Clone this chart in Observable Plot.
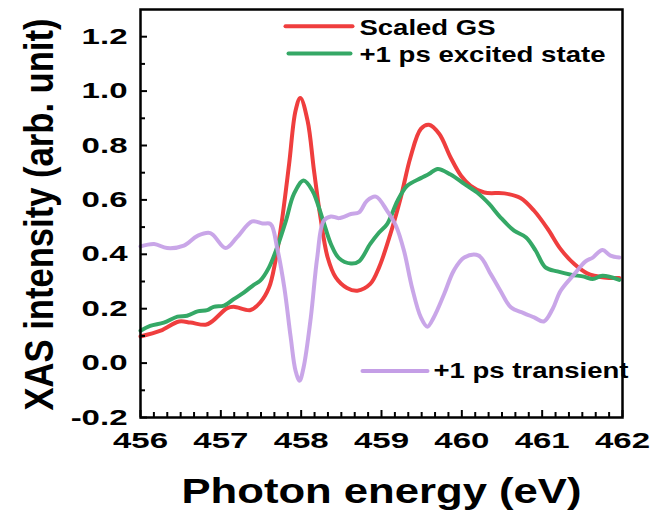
<!DOCTYPE html>
<html>
<head>
<meta charset="utf-8">
<script src="https://cdn.jsdelivr.net/npm/d3@7"></script>
<script src="https://cdn.jsdelivr.net/npm/@observablehq/plot@0.6"></script>
<style>
  html, body { margin: 0; padding: 0; background: #fff; }
  #chart svg text { font-weight: 700; }
</style>
</head>
<body>
<div id="chart"></div>
<script>
// ---- data ----
const gsE = [456.00,456.25,456.48,456.62,456.81,456.89,457.08,457.16,457.37,457.49,457.60,457.68,457.76,457.85,457.93,457.99,458.08,458.16,458.24,458.33,458.43,458.57,458.70,458.86,458.97,459.11,459.24,459.36,459.49,459.59,459.72,459.86,459.99,460.11,460.28,460.53,460.73,460.90,461.07,461.23,461.40,461.56,461.77,461.96];
const gsI = [0.098,0.119,0.153,0.149,0.141,0.153,0.202,0.207,0.195,0.223,0.278,0.376,0.523,0.732,0.928,0.975,0.891,0.707,0.536,0.388,0.315,0.276,0.266,0.291,0.352,0.474,0.609,0.756,0.861,0.876,0.842,0.756,0.689,0.652,0.627,0.624,0.607,0.560,0.493,0.419,0.364,0.330,0.315,0.313];

const esE = [456.00,456.12,456.29,456.46,456.58,456.71,456.83,456.91,457.04,457.16,457.29,457.41,457.49,457.60,457.70,457.81,457.91,458.03,458.14,458.26,458.37,458.47,458.62,458.72,458.86,458.97,459.07,459.20,459.32,459.49,459.59,459.70,459.86,460.03,460.19,460.34,460.48,460.65,460.80,460.92,461.04,461.19,461.36,461.52,461.63,461.75,461.96];
const esI = [0.119,0.137,0.149,0.171,0.174,0.190,0.195,0.207,0.211,0.235,0.260,0.288,0.303,0.352,0.425,0.523,0.622,0.671,0.634,0.536,0.438,0.386,0.366,0.374,0.438,0.480,0.511,0.597,0.652,0.680,0.695,0.714,0.693,0.659,0.627,0.585,0.536,0.487,0.462,0.413,0.352,0.337,0.325,0.318,0.309,0.321,0.306];

const trE = [456.00,456.17,456.33,456.54,456.71,456.87,457.06,457.20,457.39,457.52,457.62,457.70,457.79,457.87,457.93,457.98,458.03,458.12,458.20,458.28,458.37,458.47,458.62,458.72,458.82,458.93,459.07,459.18,459.28,459.38,459.49,459.57,459.65,459.78,459.90,460.03,460.21,460.36,460.48,460.61,460.77,460.90,461.02,461.13,461.23,461.40,461.54,461.63,461.75,461.85,461.96];
const trI = [0.429,0.438,0.423,0.432,0.468,0.478,0.423,0.462,0.521,0.513,0.511,0.425,0.278,0.094,-0.028,-0.065,-0.016,0.168,0.388,0.523,0.539,0.533,0.548,0.554,0.597,0.612,0.560,0.505,0.413,0.278,0.168,0.134,0.168,0.254,0.340,0.388,0.395,0.327,0.266,0.205,0.184,0.168,0.153,0.199,0.266,0.327,0.374,0.388,0.416,0.395,0.388];

const seriesNames = ["Scaled GS", "+1 ps excited state", "+1 ps transient"];
const seriesColors = ["#ef3e3e", "#35a866", "#c49ee6"];
const xTicks = [456, 457, 458, 459, 460, 461, 462];
const yTicks = [-0.2, 0.0, 0.2, 0.4, 0.6, 0.8, 1.0, 1.2];
const xLabel = "Photon energy (eV)";
const yLabel = "XAS intensity (arb. unit)";

// ---- build tables ----
const toRows = (E, I, s) => E.map((e, i) => ({energy: e, value: I[i], series: s}));
const gs = toRows(gsE, gsI, seriesNames[0]);
const es = toRows(esE, esI, seriesNames[1]);
const tr = toRows(trE, trI, seriesNames[2]);

const xMinor = d3.range(0, 37).map(i => 456 + i / 6).filter(v => !xTicks.some(t => Math.abs(t - v) < 1e-6));
const yMinor = d3.range(-2, 13).map(i => i / 10).filter(v => !yTicks.some(t => Math.abs(t - v) < 1e-6));

const lineShape = { draw(context, l) { context.moveTo(0, 0); context.lineTo(0, -l); } };
const swatch = (color, dx, dy, len) => Plot.vector([0], {
  frameAnchor: "top-left", dx, dy, length: len, rotate: 90, anchor: "start",
  shape: lineShape, stroke: color, strokeWidth: 4
});
const legendText = (label, dx, dy) => Plot.text([label], {
  text: d => d, frameAnchor: "top-left", dx, dy, textAnchor: "start",
  lineAnchor: "bottom", fontSize: 22, fill: "black"
});

const fmt = d => d.toFixed(1);

const chart = Plot.plot({
  width: 653,
  height: 512,
  marginLeft: 140,
  marginRight: 31,
  marginTop: 9,
  marginBottom: 95,
  style: { fontFamily: "'Liberation Sans', Arial, sans-serif", color: "black", background: "white" },
  x: { domain: [456, 462] },
  y: { domain: [-0.2, 1.3] },
  marks: [
    Plot.line(gs, {x: "energy", y: "value", stroke: seriesColors[0], strokeWidth: 4, curve: "catmull-rom"}),
    Plot.line(es, {x: "energy", y: "value", stroke: seriesColors[1], strokeWidth: 4, curve: "catmull-rom"}),
    Plot.line(tr, {x: "energy", y: "value", stroke: seriesColors[2], strokeWidth: 4, strokeOpacity: 0.92, curve: "catmull-rom"}),
    // axes: labels
    Plot.axisX({ticks: xTicks, tickSize: 0, tickPadding: 15, fontSize: 22, tickFormat: d => String(d), label: null}),
    Plot.axisY({ticks: yTicks, tickSize: 0, tickPadding: 13, fontSize: 22, tickFormat: fmt, label: null}),
    // axes: inward ticks
    Plot.axisX({ticks: xTicks, tickSize: -7, strokeWidth: 2, fill: "none", label: null}),
    Plot.axisX({ticks: xMinor, tickSize: -5, strokeWidth: 2, fill: "none", label: null}),
    Plot.axisY({ticks: yTicks, tickSize: -7, strokeWidth: 2, fill: "none", label: null}),
    Plot.axisY({ticks: yMinor, tickSize: -5, strokeWidth: 2, fill: "none", label: null}),
    Plot.frame({stroke: "black", strokeWidth: 2.5}),
    // axis titles
    Plot.text([xLabel], {text: d => d, frameAnchor: "bottom", dy: 85, textAnchor: "middle", lineAnchor: "bottom", fontSize: 35, fill: "black"}),
    Plot.text([yLabel], {text: d => d, frameAnchor: "left", dx: -88, dy: 1, rotate: -90, textAnchor: "middle", lineAnchor: "bottom", fontSize: 40, fill: "black"}),
    // legend
    swatch(seriesColors[0], 145, 16.7, 67),
    swatch(seriesColors[1], 148, 44, 62),
    swatch(seriesColors[2], 222, 361.4, 65),
    legendText(seriesNames[0], 219, 25.7),
    legendText(seriesNames[1], 219, 52.4),
    legendText(seriesNames[2], 293, 368.7)
  ]
});

document.getElementById("chart").append(chart);

// widen glyphs horizontally the way the reference does
const targetWidths = {
  "Scaled GS": 136,
  "+1 ps excited state": 246,
  "+1 ps transient": 195,
  "Photon energy (eV)": 400,
  "XAS intensity (arb. unit)": 392
};
d3.select(chart).selectAll("text").each(function () {
  const t = this.textContent;
  const w = this.getComputedTextLength();
  if (!w) return;
  let target = null;
  if (targetWidths[t] != null) target = targetWidths[t];
  else {
    const g = this.closest("g[aria-label]");
    const lab = g ? g.getAttribute("aria-label") : "";
    if (lab && lab.includes("tick label")) target = w * 1.5;
  }
  if (target != null) {
    this.setAttribute("textLength", target);
    this.setAttribute("lengthAdjust", "spacingAndGlyphs");
  }
});
</script>
</body>
</html>
